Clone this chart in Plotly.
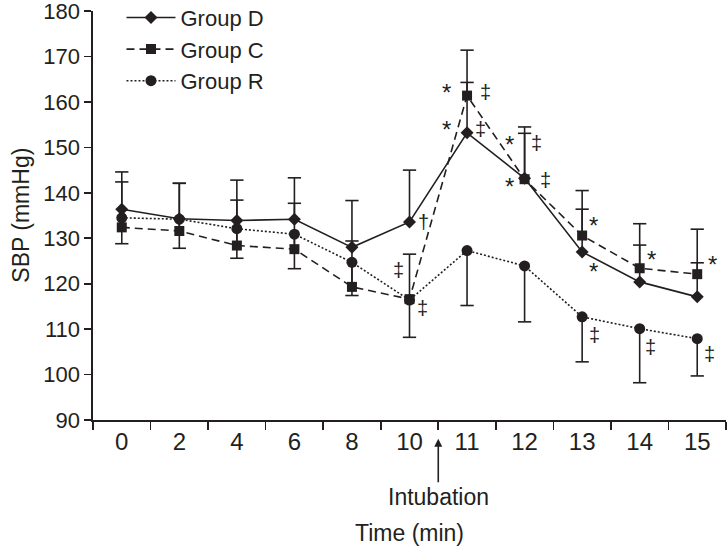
import plotly.graph_objects as go

# ---- data ----
times = ["0", "2", "4", "6", "8", "10", "11", "12", "13", "14", "15"]

d_mean = [136.4, 134.3, 133.9, 134.2, 128.0, 133.6, 153.2, 143.2, 127.0, 120.4, 117.1]
d_sd   = [8.2, 7.8, 8.9, 9.1, 10.3, 11.4, 11.1, 11.3, 9.4, 8.1, 7.5]

c_mean = [132.4, 131.6, 128.4, 127.6, 119.3, 116.6, 161.4, 143.0, 130.6, 123.4, 122.1]
c_sd   = [10.0, 10.5, 10.0, 10.1, 10.1, 9.9, 10.0, 10.1, 9.9, 9.8, 9.9]

r_mean = [134.5, 134.2, 132.1, 130.9, 124.7, 116.4, 127.3, 123.9, 112.7, 110.1, 107.9]
r_sd   = [5.7, 6.4, 6.5, 7.6, 7.3, 8.2, 12.1, 12.3, 9.9, 11.9, 8.2]

y_ticks = [90, 100, 110, 120, 130, 140, 150, 160, 170, 180]

# significance marks: (time, group, symbol, xshift, yshift)
marks = [
    ("10", "D", "†", 14, 0),
    ("10", "C", "‡", -11, 29),
    ("10", "R", "‡", 13, -8),
    ("11", "C", "*", -21, 3),
    ("11", "C", "‡", 18, 4),
    ("11", "D", "*", -21, 3),
    ("11", "D", "‡", 13, 4),
    ("12", "C", "*", -15, 35),
    ("12", "C", "‡", 12, 36),
    ("12", "D", "*", -15, -8),
    ("12", "D", "‡", 21, -2),
    ("13", "C", "*", 11, 10),
    ("13", "D", "*", 11, -20),
    ("14", "C", "*", 12, 9),
    ("15", "C", "*", 15, 10),
    ("13", "R", "‡", 12, -18),
    ("14", "R", "‡", 11, -18),
    ("15", "R", "‡", 12, -15),
]

INK = "#231f20"
FONT = "Liberation Sans, Arial, Helvetica, sans-serif"

groups = {
    "D": dict(name="Group D", mean=d_mean, sd=d_sd, up=True, dash="solid",
              symbol="diamond", size=10),
    "C": dict(name="Group C", mean=c_mean, sd=c_sd, up=True, dash="8px,5px",
              symbol="square", size=10),
    "R": dict(name="Group R", mean=r_mean, sd=r_sd, up=False, dash="2px,2px",
              symbol="circle", size=11),
}

fig = go.Figure()

for key in ["R", "C", "D"]:
    g = groups[key]
    zeros = [0] * len(g["sd"])
    err = dict(type="data", symmetric=False,
               array=g["sd"] if g["up"] else zeros,
               arrayminus=zeros if g["up"] else g["sd"],
               color=INK, thickness=1.6, width=0)
    # error bar stems
    fig.add_trace(go.Scatter(x=times, y=g["mean"], mode="none", error_y=err,
                             showlegend=False, hoverinfo="skip"))
    # caps
    ends = [m + s if g["up"] else m - s for m, s in zip(g["mean"], g["sd"])]
    fig.add_trace(go.Scatter(x=times, y=ends, mode="markers", showlegend=False,
                             hoverinfo="skip",
                             marker=dict(symbol="line-ew", size=9.5,
                                         line=dict(color=INK, width=1.6))))

for key in ["D", "C", "R"]:
    g = groups[key]
    fig.add_trace(go.Scatter(
        x=times, y=g["mean"], mode="lines+markers", name=g["name"],
        line=dict(color=INK, width=1.6, dash=g["dash"]),
        marker=dict(symbol=g["symbol"], size=g["size"], color=INK,
                    line=dict(width=0)),
    ))

annotations = []
for t, grp, sym, dx, dy in marks:
    idx = times.index(t)  # category axes take serial numbers
    annotations.append(dict(
        x=idx, y=groups[grp]["mean"][idx], xref="x", yref="y", text=sym,
        showarrow=False, xshift=dx, yshift=dy, xanchor="center", yanchor="middle",
        font=dict(family=FONT, size=24 if sym == "*" else 20, color=INK)))

# intubation arrow between "10" and "11"
annotations.append(dict(
    x=times.index("10") + 0.5, y=-0.046, xref="x", yref="paper",
    text="Intubation", showarrow=True, arrowhead=2, arrowsize=1,
    arrowwidth=1.6, arrowcolor=INK, ax=0, ay=58, axref="pixel", ayref="pixel",
    font=dict(family=FONT, size=23, color=INK)))

annotations.append(dict(
    x=0.5, y=-0.276, xref="paper", yref="paper", text="Time (min)",
    xanchor="center", yanchor="middle",
    showarrow=False, font=dict(family=FONT, size=23, color=INK)))

annotations.append(dict(
    x=-0.115, y=0.5, xref="paper", yref="paper", text="SBP (mmHg)",
    xanchor="center", yanchor="middle",
    textangle=-90, showarrow=False, font=dict(family=FONT, size=23, color=INK)))

fig.update_layout(
    width=727, height=549,
    margin=dict(l=93, r=1, t=11, b=129, autoexpand=False),
    paper_bgcolor="white", plot_bgcolor="white",
    font=dict(family=FONT, color=INK),
    showlegend=True,
    legend=dict(x=0.045, y=1.035, xanchor="left", yanchor="top",
                bgcolor="rgba(0,0,0,0)", font=dict(family=FONT, size=22, color=INK),
                itemwidth=49, tracegroupgap=0),
    annotations=annotations,
    xaxis=dict(type="category", categoryorder="array", categoryarray=times,
               range=[-0.5, len(times) - 0.5], tickson="boundaries",
               showline=True, linecolor=INK, linewidth=1.6,
               ticks="outside", ticklen=8, tickwidth=1.6, tickcolor=INK,
               showgrid=False, zeroline=False, automargin=False,
               tickfont=dict(family=FONT, size=24, color=INK)),
    yaxis=dict(range=[90, 180.02], tickvals=y_ticks, ticklabeloverflow="allow",
               showline=True, linecolor=INK, linewidth=1.6,
               ticks="outside", ticklen=7, tickwidth=1.6, tickcolor=INK,
               showgrid=False, zeroline=False, automargin=False,
               tickfont=dict(family=FONT, size=22, color=INK)),
)

# remove the browser's default 8px body margin so the figure fills the window
fig.write_html("out.html",
               config={"displayModeBar": False, "staticPlot": True},
               post_script="document.body.style.margin='0';")
